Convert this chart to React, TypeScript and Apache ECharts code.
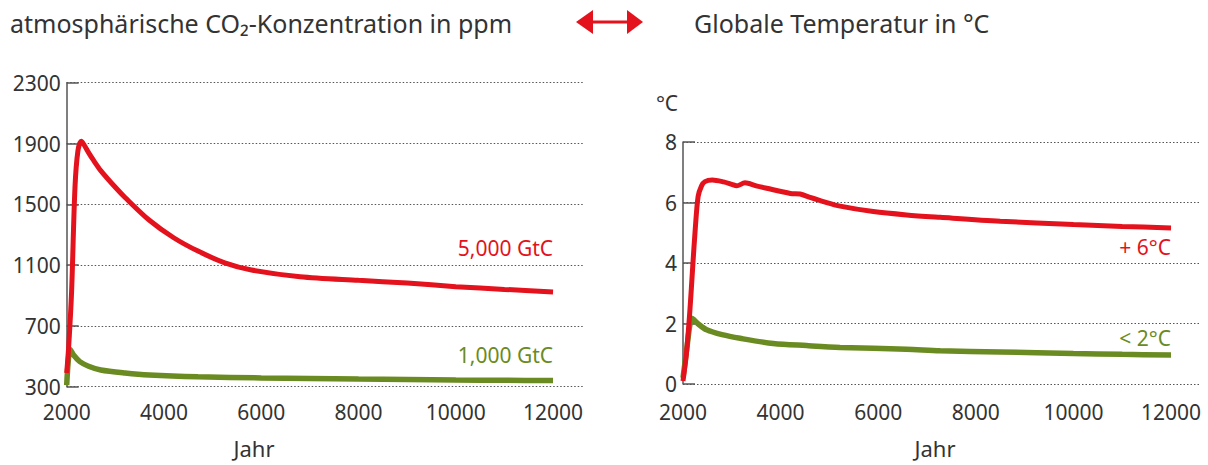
import React, { useEffect, useRef } from "react";
import * as echarts from "echarts";

// ---- data ----
const co2HighYears = [2000, 2040, 2100, 2170, 2230, 2300, 2350, 2450, 2550, 2700, 3000, 3200, 3700, 4200, 4700, 5250, 5800, 6800, 8000, 9000, 10000, 11000, 12000];
const co2High = [390, 560, 920, 1610, 1850, 1915, 1895, 1840, 1790, 1722, 1612, 1545, 1395, 1280, 1192, 1115, 1068, 1024, 1000, 982, 958, 940, 923];
const co2LowYears = [2000, 2030, 2070, 2150, 2270, 2450, 2700, 3200, 3700, 4700, 6000, 7000, 8000, 9000, 10000, 11000, 12000];
const co2Low = [310, 460, 545, 505, 465, 435, 410, 390, 377, 365, 358, 354, 350, 347, 344, 342, 340];

const tempHighYears = [2000, 2070, 2140, 2200, 2250, 2310, 2380, 2450, 2600, 2830, 3000, 3100, 3270, 3500, 3715, 4200, 4400, 4600, 4875, 5220, 5900, 6580, 7270, 8500, 10000, 11000, 12000];
const tempHigh = [0.1, 1.0, 2.4, 3.9, 5.1, 6.2, 6.55, 6.69, 6.74, 6.68, 6.6, 6.55, 6.65, 6.55, 6.47, 6.3, 6.28, 6.17, 6.03, 5.88, 5.7, 5.59, 5.51, 5.38, 5.27, 5.21, 5.16];
const tempLowYears = [2000, 2080, 2140, 2180, 2300, 2485, 2800, 3170, 3850, 4530, 5220, 6580, 7270, 8500, 10000, 11000, 12000];
const tempLow = [0.2, 1.2, 1.95, 2.17, 2.0, 1.79, 1.63, 1.51, 1.34, 1.27, 1.21, 1.15, 1.1, 1.06, 1.01, 0.98, 0.96];

const yearTicks = [2000, 4000, 6000, 8000, 10000, 12000];
const co2Ticks = [300, 700, 1100, 1500, 1900, 2300];
const tempTicks = [0, 2, 4, 6, 8];

const titleLeft = "atmosphärische CO₂-Konzentration in ppm";
const titleRight = "Globale Temperatur in °C";
const labelCo2High = "5,000 GtC";
const labelCo2Low = "1,000 GtC";
const labelTempHigh = "+ 6°C";
const labelTempLow = "< 2°C";
const xName = "Jahr";
const tempUnit = "°C";

const RED = "#e3121c";
const GREEN = "#6a8b21";
const TEXT = "#333333";
const AXIS = "#555555";
const FONT = "Noto Sans";

const pairs = (xs: number[], ys: number[]) => xs.map((x, i) => [x, ys[i]]);

export default function App() {
  const ref = useRef<HTMLDivElement>(null);
  useEffect(() => {
    if (!ref.current) return;
    const chart = echarts.init(ref.current, undefined, { renderer: "svg" });

    const co2Base = co2Ticks[0];
    const co2Step = co2Ticks[1] - co2Ticks[0];
    const co2Span = co2Ticks[co2Ticks.length - 1] - co2Base;

    const endMark = (xs: number[], ys: number[], text: string, color: string, position: string, distance: number) => ({
      symbol: "circle",
      symbolSize: 0,
      silent: true,
      data: [{ coord: [xs[xs.length - 1], ys[ys.length - 1]] }],
      label: {
        show: true,
        formatter: text,
        position,
        align: "right",
        distance,
        color,
        fontSize: 21,
        fontFamily: FONT,
      },
    });

    const xAxisFor = (gridIndex: number, max: number, margin: number) => ({
      gridIndex,
      type: "value",
      position: "bottom",
      min: yearTicks[0],
      max,
      interval: yearTicks[1] - yearTicks[0],
      axisLine: { show: false },
      axisTick: { show: false },
      splitLine: { show: false },
      axisLabel: {
        color: TEXT,
        fontSize: 21,
        fontFamily: FONT,
        margin,
        formatter: (v: number) => (yearTicks.includes(v) ? String(v) : ""),
      },
    });

    const lineCommon = { type: "line", showSymbol: false, smooth: 0.3 };

    const option: any = {
      animation: false,
      grid: [
        { left: 66.7, top: 82.7, width: 517.3, height: 304 },
        { left: 683, top: 142, width: 517, height: 242 },
      ],
      xAxis: [xAxisFor(0, 12637, 15), xAxisFor(1, 12594, 17)],
      yAxis: [
        { gridIndex: 0, type: "value", position: "left", min: co2Base, max: co2Ticks[co2Ticks.length - 1], show: false },
        {
          gridIndex: 0,
          type: "value",
          position: "left",
          min: 0,
          max: co2Span,
          interval: co2Step,
          axisLine: { show: true, lineStyle: { color: AXIS, width: 1.5 } },
          axisTick: { show: true, inside: true, length: 12, lineStyle: { color: AXIS, width: 1.5 } },
          splitLine: { show: true, lineStyle: { color: AXIS, type: [1.5, 2], width: 1.2 } },
          axisLabel: {
            color: TEXT,
            fontSize: 21,
            fontFamily: FONT,
            margin: 6,
            formatter: (v: number) => String(v + co2Base),
          },
        },
        {
          gridIndex: 1,
          type: "value",
          position: "left",
          min: tempTicks[0],
          max: tempTicks[tempTicks.length - 1],
          interval: tempTicks[1] - tempTicks[0],
          axisLine: { show: true, lineStyle: { color: AXIS, width: 1.5 } },
          axisTick: { show: true, inside: true, length: 12, lineStyle: { color: AXIS, width: 1.5 } },
          splitLine: { show: true, lineStyle: { color: AXIS, type: [1.5, 2], width: 1.2 } },
          axisLabel: { color: TEXT, fontSize: 21, fontFamily: FONT, margin: 6 },
        },
      ],
      series: [
        {
          ...lineCommon,
          xAxisIndex: 0,
          yAxisIndex: 0,
          data: pairs(co2LowYears, co2Low),
          lineStyle: { color: GREEN, width: 5.5 },
          markPoint: endMark(co2LowYears, co2Low, labelCo2Low, GREEN, "top", 15),
        },
        {
          ...lineCommon,
          xAxisIndex: 0,
          yAxisIndex: 0,
          data: pairs(co2HighYears, co2High),
          lineStyle: { color: RED, width: 5 },
          markPoint: endMark(co2HighYears, co2High, labelCo2High, RED, "top", 34),
        },
        {
          ...lineCommon,
          xAxisIndex: 1,
          yAxisIndex: 2,
          data: pairs(tempLowYears, tempLow),
          lineStyle: { color: GREEN, width: 5.5 },
          markPoint: endMark(tempLowYears, tempLow, labelTempLow, GREEN, "top", 6),
        },
        {
          ...lineCommon,
          xAxisIndex: 1,
          yAxisIndex: 2,
          data: pairs(tempHighYears, tempHigh),
          lineStyle: { color: RED, width: 5 },
          markPoint: endMark(tempHighYears, tempHigh, labelTempHigh, RED, "bottom", 9),
        },
      ],
      graphic: [
        { type: "text", x: 10, y: 23, style: { text: titleLeft, fill: TEXT, fontSize: 25, fontFamily: FONT, align: "left", verticalAlign: "middle" } },
        { type: "text", x: 694, y: 23, style: { text: titleRight, fill: TEXT, fontSize: 25, fontFamily: FONT, align: "left", verticalAlign: "middle" } },
        { type: "line", shape: { x1: 590, y1: 22, x2: 630, y2: 22 }, style: { stroke: RED, lineWidth: 3 } },
        { type: "polygon", shape: { points: [[576, 22], [593, 10], [593, 34]] }, style: { fill: RED } },
        { type: "polygon", shape: { points: [[643, 22], [627, 10], [627, 34]] }, style: { fill: RED } },
        { type: "text", x: 667, y: 103, style: { text: tempUnit, fill: TEXT, fontSize: 21, fontFamily: FONT, align: "center", verticalAlign: "middle" } },
        { type: "text", x: 254, y: 448, style: { text: xName, fill: TEXT, fontSize: 22, fontFamily: FONT, align: "center", verticalAlign: "middle" } },
        { type: "text", x: 935, y: 448, style: { text: xName, fill: TEXT, fontSize: 22, fontFamily: FONT, align: "center", verticalAlign: "middle" } },
      ],
    };
    chart.setOption(option);
    return () => chart.dispose();
  }, []);
  return (
    <div
      ref={ref}
      style={{ position: "absolute", left: 0, top: 0, width: 1208, height: 465, background: "#ffffff" }}
    />
  );
}
